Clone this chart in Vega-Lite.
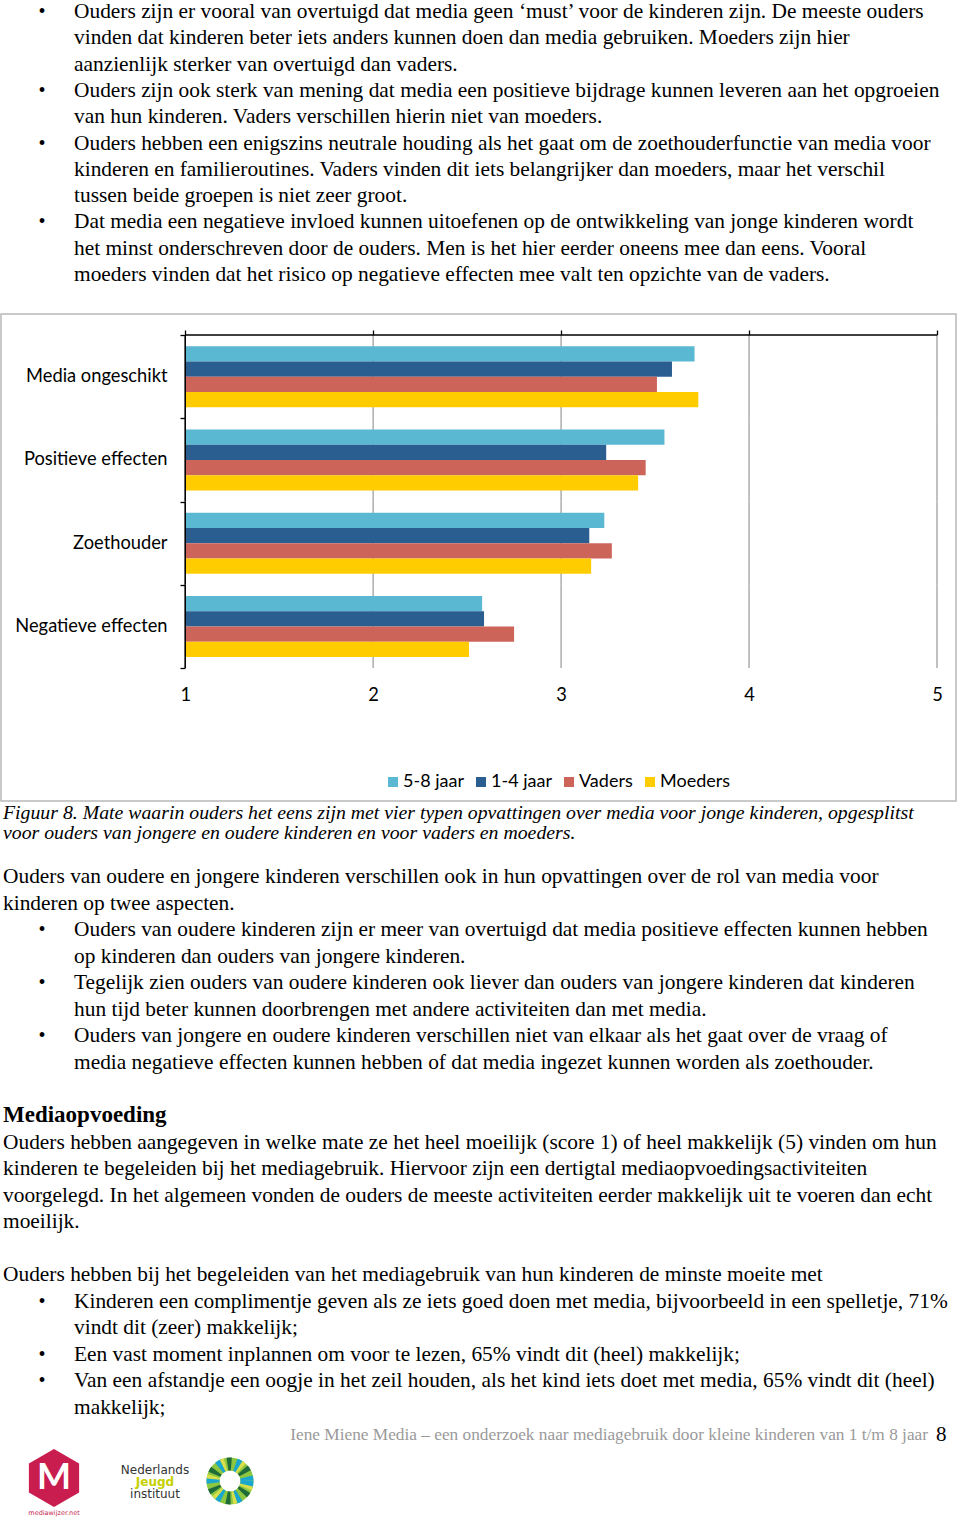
{
  "$schema": "https://vega.github.io/schema/vega-lite/v6.json",
  "padding": 0,
  "background": "white",
  "bounds": "flush",
  "spacing": 0,
  "config": {"view": {"stroke": null}, "concat": {"spacing": 0}},
  "datasets": {
    "top": [
      {"line": 0, "level": "i", "bullet": true, "text": "Ouders zijn er vooral van overtuigd dat media geen ‘must’ voor de kinderen zijn. De meeste ouders"},
      {"line": 1, "level": "i", "text": "vinden dat kinderen beter iets anders kunnen doen dan media gebruiken. Moeders zijn hier"},
      {"line": 2, "level": "i", "text": "aanzienlijk sterker van overtuigd dan vaders."},
      {"line": 3, "level": "i", "bullet": true, "text": "Ouders zijn ook sterk van mening dat media een positieve bijdrage kunnen leveren aan het opgroeien"},
      {"line": 4, "level": "i", "text": "van hun kinderen. Vaders verschillen hierin niet van moeders."},
      {"line": 5, "level": "i", "bullet": true, "text": "Ouders hebben een enigszins neutrale houding als het gaat om de zoethouderfunctie van media voor"},
      {"line": 6, "level": "i", "text": "kinderen en familieroutines. Vaders vinden dit iets belangrijker dan moeders, maar het verschil"},
      {"line": 7, "level": "i", "text": "tussen beide groepen is niet zeer groot."},
      {"line": 8, "level": "i", "bullet": true, "text": "Dat media een negatieve invloed kunnen uitoefenen op de ontwikkeling van jonge kinderen wordt"},
      {"line": 9, "level": "i", "text": "het minst onderschreven door de ouders. Men is het hier eerder oneens mee dan eens. Vooral"},
      {"line": 10, "level": "i", "text": "moeders vinden dat het risico op negatieve effecten mee valt ten opzichte van de vaders."}
    ],
    "bars": [
      {"cat": "Media ongeschikt", "grp": "5-8 jaar", "val": 3.71},
      {"cat": "Media ongeschikt", "grp": "1-4 jaar", "val": 3.59},
      {"cat": "Media ongeschikt", "grp": "Vaders", "val": 3.51},
      {"cat": "Media ongeschikt", "grp": "Moeders", "val": 3.73},
      {"cat": "Positieve effecten", "grp": "5-8 jaar", "val": 3.55},
      {"cat": "Positieve effecten", "grp": "1-4 jaar", "val": 3.24},
      {"cat": "Positieve effecten", "grp": "Vaders", "val": 3.45},
      {"cat": "Positieve effecten", "grp": "Moeders", "val": 3.41},
      {"cat": "Zoethouder", "grp": "5-8 jaar", "val": 3.23},
      {"cat": "Zoethouder", "grp": "1-4 jaar", "val": 3.15},
      {"cat": "Zoethouder", "grp": "Vaders", "val": 3.27},
      {"cat": "Zoethouder", "grp": "Moeders", "val": 3.16},
      {"cat": "Negatieve effecten", "grp": "5-8 jaar", "val": 2.58},
      {"cat": "Negatieve effecten", "grp": "1-4 jaar", "val": 2.59},
      {"cat": "Negatieve effecten", "grp": "Vaders", "val": 2.75},
      {"cat": "Negatieve effecten", "grp": "Moeders", "val": 2.51}
    ],
    "grid": [
      {"v": 1, "cats": ["Media ongeschikt", "Positieve effecten", "Zoethouder", "Negatieve effecten"]},
      {"v": 2, "cats": ["Media ongeschikt", "Positieve effecten", "Zoethouder", "Negatieve effecten"]},
      {"v": 3, "cats": ["Media ongeschikt", "Positieve effecten", "Zoethouder", "Negatieve effecten"]},
      {"v": 4, "cats": ["Media ongeschikt", "Positieve effecten", "Zoethouder", "Negatieve effecten"]},
      {"v": 5, "cats": ["Media ongeschikt", "Positieve effecten", "Zoethouder", "Negatieve effecten"]}
    ],
    "axisline": [{"v": 1}],
    "caption": [
      {"line": 0, "level": "p", "text": "Figuur 8. Mate waarin ouders het eens zijn met vier typen opvattingen over media voor jonge kinderen, opgesplitst"},
      {"line": 1, "level": "p", "text": "voor ouders van jongere en oudere kinderen en voor vaders en moeders."}
    ],
    "body": [
      {"line": 0, "level": "p", "kind": "body", "text": "Ouders van oudere en jongere kinderen verschillen ook in hun opvattingen over de rol van media voor"},
      {"line": 1, "level": "p", "kind": "body", "text": "kinderen op twee aspecten."},
      {"line": 2, "level": "i", "kind": "body", "bullet": true, "text": "Ouders van oudere kinderen zijn er meer van overtuigd dat media positieve effecten kunnen hebben"},
      {"line": 3, "level": "i", "kind": "body", "text": "op kinderen dan ouders van jongere kinderen."},
      {"line": 4, "level": "i", "kind": "body", "bullet": true, "text": "Tegelijk zien ouders van oudere kinderen ook liever dan ouders van jongere kinderen dat kinderen"},
      {"line": 5, "level": "i", "kind": "body", "text": "hun tijd beter kunnen doorbrengen met andere activiteiten dan met media."},
      {"line": 6, "level": "i", "kind": "body", "bullet": true, "text": "Ouders van jongere en oudere kinderen verschillen niet van elkaar als het gaat over de vraag of"},
      {"line": 7, "level": "i", "kind": "body", "text": "media negatieve effecten kunnen hebben of dat media ingezet kunnen worden als zoethouder."},
      {"line": 9, "level": "p", "kind": "heading", "text": "Mediaopvoeding"},
      {"line": 10, "level": "p", "kind": "body", "text": "Ouders hebben aangegeven in welke mate ze het heel moeilijk (score 1) of heel makkelijk (5) vinden om hun"},
      {"line": 11, "level": "p", "kind": "body", "text": "kinderen te begeleiden bij het mediagebruik. Hiervoor zijn een dertigtal mediaopvoedingsactiviteiten"},
      {"line": 12, "level": "p", "kind": "body", "text": "voorgelegd. In het algemeen vonden de ouders de meeste activiteiten eerder makkelijk uit te voeren dan echt"},
      {"line": 13, "level": "p", "kind": "body", "text": "moeilijk."},
      {"line": 15, "level": "p", "kind": "body", "text": "Ouders hebben bij het begeleiden van het mediagebruik van hun kinderen de minste moeite met"},
      {"line": 16, "level": "i", "kind": "body", "bullet": true, "text": "Kinderen een complimentje geven als ze iets goed doen met media, bijvoorbeeld in een spelletje, 71%"},
      {"line": 17, "level": "i", "kind": "body", "text": "vindt dit (zeer) makkelijk;"},
      {"line": 18, "level": "i", "kind": "body", "bullet": true, "text": "Een vast moment inplannen om voor te lezen, 65% vindt dit (heel) makkelijk;"},
      {"line": 19, "level": "i", "kind": "body", "bullet": true, "text": "Van een afstandje een oogje in het zeil houden, als het kind iets doet met media, 65% vindt dit (heel)"},
      {"line": 20, "level": "i", "kind": "body", "text": "makkelijk;"}
    ],
    "footer": [
      {"part": "title", "text": "Iene Miene Media – een onderzoek naar mediagebruik door kleine kinderen van 1 t/m 8 jaar"},
      {"part": "page", "text": "8"}
    ],
    "nji": [
      {"line": 0, "text": "Nederlands"},
      {"line": 1, "text": "Jeugd"},
      {"line": 2, "text": "instituut"}
    ],
    "logos": [
      {"logo": "mediawijzer", "text": "M", "tag": "mediawijzer.net"},
      {"logo": "nji-ring"}
    ]
  },
  "vconcat": [
    {
      "width": 960,
      "height": 314,
      "data": {"name": "top"},
      "encoding": {
        "x": {"field": "level", "type": "nominal", "scale": {"type": "point", "domain": ["p", "b", "i"], "range": [2, 73], "padding": 0}, "axis": null},
        "y": {"field": "line", "type": "quantitative", "scale": {"domain": [0, 10], "range": [18, 281]}, "axis": null}
      },
      "layer": [
        {
          "mark": {"type": "text", "align": "left", "baseline": "alphabetic", "font": "Liberation Serif", "fontSize": 21.4, "color": "#000000"},
          "encoding": {"text": {"field": "text"}}
        },
        {
          "transform": [{"filter": "datum.bullet"}],
          "mark": {"type": "text", "text": "•", "align": "left", "baseline": "alphabetic", "font": "Liberation Serif", "fontSize": 20, "color": "#000000"},
          "encoding": {"x": {"datum": "b", "type": "nominal"}}
        }
      ]
    },
    {
      "width": 955,
      "height": 487,
      "view": {"stroke": "#b8b8b8", "strokeWidth": 1.5},
      "resolve": {"axis": {"x": "independent", "y": "independent"}},
      "layer": [
        {
          "data": {"name": "grid"},
          "transform": [{"flatten": ["cats"], "as": ["cat"]}, {"filter": "datum.v > 1"}],
          "mark": {"type": "tick", "orient": "vertical", "size": 83.4, "thickness": 1.3, "color": "#a0a0a0", "opacity": 1},
          "encoding": {
            "x": {"field": "v", "type": "quantitative", "axis": null},
            "y": {"field": "cat", "type": "nominal", "axis": null}
          }
        },
        {
          "data": {"name": "bars"},
          "mark": {"type": "bar"},
          "encoding": {
            "y": {
              "field": "cat", "type": "nominal",
              "scale": {"domain": ["Media ongeschikt", "Positieve effecten", "Zoethouder", "Negatieve effecten"], "paddingInner": 0, "paddingOuter": 0.9249, "align": 0.1364},
              "axis": {"orient": "left", "offset": -184, "domain": false, "ticks": true, "tickBand": "extent", "tickSize": 5, "tickColor": "#000000", "tickWidth": 1.3, "labelPadding": 13, "labelFont": "Lato", "labelFontSize": 18.3, "labelColor": "#000000", "labelLimit": 0, "title": null, "grid": false}
            },
            "yOffset": {"field": "grp", "type": "nominal", "scale": {"domain": ["5-8 jaar", "1-4 jaar", "Vaders", "Moeders"], "paddingInner": 0, "paddingOuter": 0.7295}},
            "x": {
              "field": "val", "type": "quantitative",
              "scale": {"domain": [0.01997, 5.1012], "nice": false, "zero": false},
              "axis": {"orient": "bottom", "offset": -106, "values": [1, 2, 3, 4, 5], "domain": false, "ticks": false, "tickSize": 0, "grid": false, "labelPadding": 0, "labelBaseline": "middle", "labelFlush": false, "labelFont": "Lato", "labelFontSize": 18.3, "labelColor": "#000000", "title": null}
            },
            "x2": {"datum": 1},
            "color": {
              "field": "grp", "type": "nominal",
              "scale": {"domain": ["5-8 jaar", "1-4 jaar", "Vaders", "Moeders"], "range": ["#5BB8D3", "#2A5D90", "#CC645A", "#FFCC00"]},
              "legend": {"orient": "none", "legendX": 383, "legendY": 773, "direction": "horizontal", "gridAlign": "none", "title": null, "symbolType": "square", "symbolSize": 100, "symbolStrokeWidth": 0, "symbolOpacity": 1, "labelFont": "Lato", "labelFontSize": 18, "labelColor": "#000000", "labelOffset": 1, "columnPadding": 8, "padding": 0}
            }
          }
        },
        {
          "data": {"name": "grid"},
          "transform": [{"flatten": ["cats"], "as": ["cat"]}, {"filter": "datum.v === 1"}],
          "mark": {"type": "tick", "orient": "vertical", "size": 83.4, "thickness": 1.6, "color": "#000000", "opacity": 1},
          "encoding": {
            "x": {"field": "v", "type": "quantitative", "axis": null},
            "y": {"field": "cat", "type": "nominal", "axis": null}
          }
        },
        {
          "data": {"name": "axisline"},
          "mark": {"type": "rule", "color": "#000000", "strokeWidth": 1.5},
          "encoding": {
            "x": {"field": "v", "type": "quantitative", "axis": {"orient": "top", "offset": -21, "values": [1, 2, 3, 4, 5], "labels": false, "domain": false, "ticks": true, "tickSize": 5, "tickColor": "#000000", "tickWidth": 1.3, "grid": false, "title": null}},
            "x2": {"datum": 5},
            "y": {"datum": "Media ongeschikt", "type": "nominal", "bandPosition": 0, "axis": null}
          }
        }
      ]
    },
    {
      "width": 960,
      "height": 51,
      "data": {"name": "caption"},
      "mark": {"type": "text", "align": "left", "baseline": "alphabetic", "font": "Liberation Serif", "fontStyle": "italic", "fontSize": 19.8, "color": "#000000"},
      "encoding": {
        "x": {"field": "level", "type": "nominal", "scale": {"type": "point", "domain": ["p", "b", "i"], "range": [2, 73], "padding": 0}, "axis": null},
        "y": {"field": "line", "type": "quantitative", "scale": {"domain": [0, 1], "range": [18, 38]}, "axis": null},
        "text": {"field": "text"}
      }
    },
    {
      "width": 960,
      "height": 568,
      "data": {"name": "body"},
      "encoding": {
        "x": {"field": "level", "type": "nominal", "scale": {"type": "point", "domain": ["p", "b", "i"], "range": [2, 73], "padding": 0}, "axis": null},
        "y": {"field": "line", "type": "quantitative", "scale": {"domain": [0, 20], "range": [31, 562]}, "axis": null}
      },
      "layer": [
        {
          "transform": [{"filter": "datum.kind !== 'heading'"}],
          "mark": {"type": "text", "align": "left", "baseline": "alphabetic", "font": "Liberation Serif", "fontSize": 21.4, "color": "#000000"},
          "encoding": {"text": {"field": "text"}}
        },
        {
          "transform": [{"filter": "datum.kind === 'heading'"}],
          "mark": {"type": "text", "align": "left", "baseline": "alphabetic", "font": "Liberation Serif", "fontWeight": "bold", "fontSize": 23, "color": "#000000"},
          "encoding": {"text": {"field": "text"}}
        },
        {
          "transform": [{"filter": "datum.bullet"}],
          "mark": {"type": "text", "text": "•", "align": "left", "baseline": "alphabetic", "font": "Liberation Serif", "fontSize": 20, "color": "#000000"},
          "encoding": {"x": {"datum": "b", "type": "nominal"}}
        }
      ]
    },
    {
      "width": 960,
      "height": 30,
      "data": {"name": "footer"},
      "encoding": {
        "x": {"field": "part", "type": "nominal", "scale": {"type": "point", "domain": ["title", "page"], "range": [927, 935], "padding": 0}, "axis": null},
        "text": {"field": "text"}
      },
      "layer": [
        {
          "transform": [{"filter": "datum.part === 'title'"}],
          "mark": {"type": "text", "align": "right", "baseline": "middle", "font": "Liberation Serif", "fontSize": 17.3, "color": "#9a9a9a"}
        },
        {
          "transform": [{"filter": "datum.part === 'page'"}],
          "mark": {"type": "text", "align": "left", "baseline": "middle", "font": "Liberation Serif", "fontSize": 21, "color": "#000000"}
        }
      ]
    },
    {
      "spacing": 0,
      "bounds": "flush",
      "hconcat": [
        {
          "width": 106,
          "height": 56,
          "data": {"name": "logos"},
          "transform": [{"filter": "datum.logo === 'mediawijzer'"}],
          "layer": [
            {"mark": {"type": "point", "shape": "M0,-1L0.866,-0.5L0.866,0.5L0,1L-0.866,0.5L-0.866,-0.5Z", "filled": true, "color": "#C81D4E", "opacity": 1, "size": 3364}, "encoding": {}},
            {"mark": {"type": "text", "font": "Lato", "fontWeight": "bold", "fontSize": 36, "color": "#ffffff", "baseline": "middle", "align": "center"}, "encoding": {"text": {"field": "text"}}},
            {"mark": {"type": "text", "font": "DejaVu Sans", "fontSize": 6.5, "color": "#C81D4E", "baseline": "middle", "align": "center", "dy": 35}, "encoding": {"text": {"field": "tag"}}}
          ]
        },
        {
          "width": 96,
          "height": 68,
          "data": {"name": "nji"},
          "encoding": {
            "y": {"field": "line", "type": "quantitative", "scale": {"domain": [0, 2], "range": [24, 48]}, "axis": null},
            "text": {"field": "text"}
          },
          "layer": [
            {"transform": [{"filter": "datum.line !== 1"}], "mark": {"type": "text", "font": "DejaVu Sans", "fontSize": 12, "color": "#333333", "baseline": "alphabetic", "align": "center"}},
            {"transform": [{"filter": "datum.line === 1"}], "mark": {"type": "text", "font": "DejaVu Sans", "fontSize": 12, "fontWeight": "bold", "color": "#C5D000", "baseline": "alphabetic", "align": "center"}}
          ]
        },
        {
          "width": 54,
          "height": 62,
          "data": {"name": "logos"},
          "transform": [{"filter": "datum.logo === 'nji-ring'"}],
          "layer": [
            {"mark": {"type": "point", "shape": "circle", "filled": false, "size": 1156, "strokeWidth": 13, "stroke": "#8DC63F", "opacity": 1}, "encoding": {}},
            {"mark": {"type": "point", "shape": "circle", "filled": false, "size": 1156, "strokeWidth": 13, "stroke": "#19A7CE", "strokeDash": [5, 12], "opacity": 1}, "encoding": {}},
            {"mark": {"type": "point", "shape": "circle", "filled": false, "size": 1156, "strokeWidth": 13, "stroke": "#1F6B3A", "strokeDash": [4, 13], "strokeDashOffset": 8, "opacity": 1}, "encoding": {}},
            {"mark": {"type": "point", "shape": "circle", "filled": false, "size": 1156, "strokeWidth": 13, "stroke": "#D7E04A", "strokeDash": [3, 14], "strokeDashOffset": 13, "opacity": 1}, "encoding": {}}
          ]
        }
      ]
    }
  ]
}
